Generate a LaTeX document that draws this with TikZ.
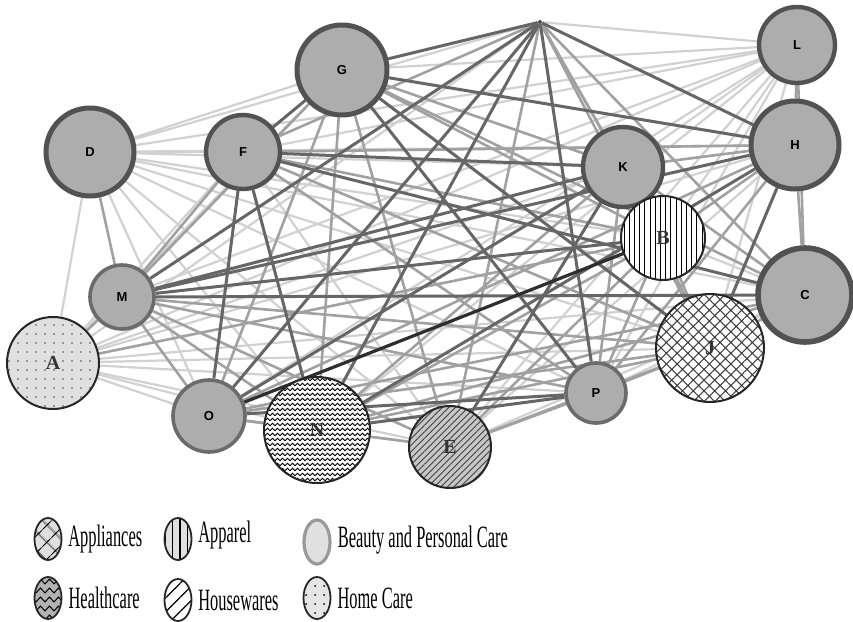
\documentclass[tikz,border=0pt]{standalone}
\usepackage{fontspec}
\setmainfont{Liberation Serif}
\newfontfamily\nodefont{Liberation Sans}
\usetikzlibrary{positioning,backgrounds,shapes.geometric,patterns,patterns.meta}

% wavy fill for Healthcare
\pgfdeclarepatternformonly{zigzag}{\pgfpoint{-0.1pt}{-0.1pt}}{\pgfpoint{2.6pt}{2.6pt}}{\pgfpoint{2.5pt}{2.5pt}}{
  \pgfsetlinewidth{0.4pt}
  \pgfpathmoveto{\pgfpoint{0pt}{0.6pt}}
  \pgfpathlineto{\pgfpoint{1.25pt}{1.9pt}}
  \pgfpathlineto{\pgfpoint{2.5pt}{0.6pt}}
  \pgfusepath{stroke}
}
\pgfdeclarepatternformonly{bigzigzag}{\pgfpoint{-0.1pt}{-0.1pt}}{\pgfpoint{4.6pt}{4.6pt}}{\pgfpoint{4.5pt}{4.5pt}}{
  \pgfsetlinewidth{0.5pt}
  \pgfpathmoveto{\pgfpoint{0pt}{1pt}}
  \pgfpathlineto{\pgfpoint{2.25pt}{3.5pt}}
  \pgfpathlineto{\pgfpoint{4.5pt}{1pt}}
  \pgfusepath{stroke}
}

\begin{document}
\begin{tikzpicture}[x=0.5pt, y=-0.5pt, line cap=round,
  gnode/.style={circle, draw=black!68, fill=black!32, inner sep=0pt, line width=2.5pt,
    font=\nodefont\bfseries\fontsize{6.5}{6.5}\selectfont},
  pnode/.style={circle, draw=black!85, line width=1pt, inner sep=0pt, text=black!80,
    font=\bfseries\fontsize{10}{10}\selectfont},
  light/.style={black!18, line width=1.1pt},
  mid/.style={black!37, line width=1.3pt},
  dark/.style={black!60, line width=1.5pt},
  vdark/.style={black!82, line width=1.6pt},
  legmark/.style={ellipse, inner sep=0pt, minimum width=13.5pt, minimum height=21pt,
    draw=black!85, line width=0.9pt},
  legtext/.style={font=\fontsize{15.5}{15.5}\selectfont, xscale=0.53, inner sep=0pt}]

\useasboundingbox (0,0) rectangle (853,622);

% Nodes
\node[circle, fill=black!70, inner sep=0pt, minimum size=2pt] (T) at (540,22) {};
\node[gnode, minimum size=45pt] (G) at (342,70) {G};
\node[gnode, minimum size=38pt, line width=2.2pt] (L) at (797,45) {L};
\node[gnode, minimum size=44pt] (D) at (90,152) {D};
\node[gnode, minimum size=37pt, line width=2.2pt] (F) at (243,152) {F};
\node[gnode, minimum size=40pt, line width=2.2pt] (K) at (623,167) {K};
\node[gnode, minimum size=44pt] (H) at (795,145) {H};
\node[gnode, minimum size=47pt, line width=2.8pt] (C) at (805,295) {C};
\node[gnode, minimum size=32pt, line width=1.8pt, draw=black!58] (M) at (122,297) {M};
\node[gnode, minimum size=30pt, line width=1.8pt, draw=black!58] (P) at (596,393) {P};
\node[gnode, minimum size=36pt, line width=1.8pt, draw=black!58] (O) at (209,416) {O};
\node[pnode, minimum size=46pt, preaction={fill=black!12}, pattern color=black!70,
  pattern={Dots[distance=4.5pt, radius=0.45pt]}] (A) at (53,363) {A};
\node[pnode, minimum size=42pt, preaction={fill=white},
  pattern={Lines[angle=90, distance=2.6pt, line width=0.5pt]}] (B) at (663,238) {B};
\node[pnode, minimum size=54pt, preaction={fill=white}, pattern color=black!75,
  pattern={Hatch[angle=45, distance=3.8pt, line width=0.5pt]}] (J) at (710,348) {J};
\node[pnode, minimum size=53pt, preaction={fill=white}, pattern=zigzag] (N) at (317,430) {N};
\node[pnode, minimum size=41pt, preaction={fill=black!22}, pattern color=black!75,
  pattern={Lines[angle=45, distance=2.3pt, line width=0.45pt]}] (E) at (450,447) {E};

% Links
\begin{scope}[on background layer]
  \foreach \a/\b in {T/L, T/D, T/A, G/L, G/D, G/A, L/D, L/F, L/K, L/B, L/M, L/A, L/J, L/P,
    L/O, L/N, L/E, D/F, D/K, D/H, D/B, D/C, D/A, D/J, D/P, D/O, D/N, D/E, F/A, F/E,
    K/B, K/A, H/A, B/C, C/A, C/P, A/J, A/O, A/N, A/E, N/E, H/E, C/E, A/P}
    \draw[light] (\a) -- (\b);
  \foreach \a/\b in {T/F, T/K, T/B, T/C, T/J, T/E, G/K, G/B, G/C, G/M, G/O, G/N, G/E,
    L/H, L/C, D/M, F/H, F/B, F/M, F/J, F/P, K/H, K/C, K/J, K/P, K/N, H/B, H/C, H/P,
    H/O, B/A, B/J, B/P, B/N, B/E, C/J, C/O, C/N, M/A, M/J, M/P, M/O, M/N,
    M/E, J/P, J/O, J/N, J/E, P/E, O/N, O/E}
    \draw[mid] (\a) -- (\b);
  \foreach \a/\b in {T/G, T/H, T/M, T/P, T/O, T/N, G/F, G/H, G/J, G/P, F/K, F/C, F/O,
    F/N, K/M, K/O, K/E, H/M, H/J, H/N, B/M, C/M, P/O, P/N}
    \draw[dark] (\a) -- (\b);
  \draw[vdark] (O) -- (B);
\end{scope}

% Legend
\node[legmark, preaction={fill=black!12},
  pattern={Hatch[angle=45, distance=6.5pt, line width=0.6pt]}] (lgAppl) at (48,539) {};
\node[legmark, preaction={fill=black!12},
  pattern={Lines[angle=90, distance=3.6pt, line width=0.6pt]}] (lgAppr) at (178,539) {};
\node[legmark, fill=black!12, draw=black!40, line width=1.6pt,
  minimum width=13pt, minimum height=22pt] (lgBeau) at (317,542) {};
\node[legmark, preaction={fill=black!30}, pattern=bigzigzag] (lgHeal) at (48,598) {};
\node[legmark, preaction={fill=white},
  pattern={Lines[angle=45, distance=5pt, line width=0.6pt]}] (lgHous) at (178,600) {};
\node[legmark, preaction={fill=black!10},
  pattern={Dots[distance=4.5pt, radius=0.5pt]}] (lgHome) at (317,598) {};

\node[legtext, right=3pt of lgAppl] (tAppl) {Appliances};
\node[legtext, right=3pt of lgAppr, yshift=2pt] (tAppr) {Apparel};
\node[legtext, right=3pt of lgBeau, yshift=1pt] (tBeau) {Beauty and Personal Care};
\node[legtext, right=3pt of lgHeal] (tHeal) {Healthcare};
\node[legtext, right=3pt of lgHous] (tHous) {Housewares};
\node[legtext, right=3pt of lgHome] (tHome) {Home Care};
\end{tikzpicture}
\end{document}
